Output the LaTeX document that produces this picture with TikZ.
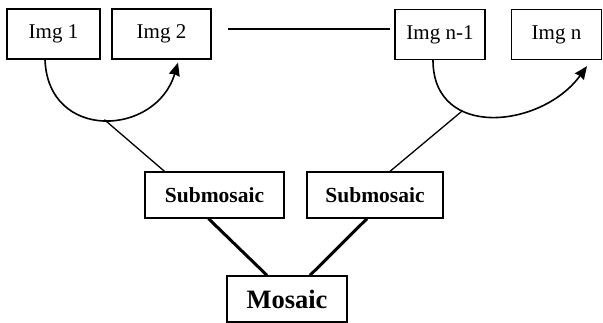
\documentclass[tikz,border=0pt]{standalone}
\usepackage{fontspec}
\setmainfont{Liberation Serif}
\usetikzlibrary{arrows.meta}

\begin{document}
\begin{tikzpicture}[x=1pt,y=-1pt,
	imgbox/.style={draw, line width=1.3pt, minimum height=50pt, inner sep=0pt,
		font=\fontsize{21}{24}\selectfont},
	subbox/.style={draw, line width=1.3pt, minimum height=46pt, inner sep=0pt,
		font=\bfseries\fontsize{21.5}{24}\selectfont},
	link/.style={line width=1.3pt},
	hop/.style={line width=1.6pt, -{Stealth[length=13pt,width=11pt,inset=1pt]}},
	merge/.style={line width=3pt}]
					
					\useasboundingbox (0,0) rectangle (603,323);
					
					% ---- top: image row ----
					\node[imgbox, minimum width=93pt] (img1) at (53.5,34) {Img 1};
					\node[imgbox, minimum width=99pt] (img2) at (161.5,34) {Img 2};
					\node[imgbox, minimum width=90pt] (imgm) at (440,34.5) {Img n-1};
					\node[imgbox, minimum width=90pt] (imgn) at (556.5,34.5) {Img n};
					
					% ---- middle: submosaics ----
					\node[subbox, minimum width=139pt] (sub1) at (214.5,195) {Submosaic};
					\node[subbox, minimum width=136pt] (sub2) at (375,195) {Submosaic};
					
					% ---- bottom: mosaic ----
					\node[subbox, minimum width=120pt, font=\bfseries\fontsize{26.5}{30}\selectfont]
					(mosaic) at (287,299) {Mosaic};
					
					% gap between the two pairs
					\coordinate (gapL) at (228,29);
					\coordinate (gapR) at (390,29);
					\draw[link] (gapL) -- (gapR);
					
					% pairwise registration
					\draw[hop] ([xshift=-8.5pt]img1.south) .. controls +(3,82) and +(-22,74) ..
					([xshift=16.5pt,yshift=-3pt]img2.south) coordinate[pos=0.5] (arcA);
					\draw[hop] ([xshift=-7pt]imgm.south) .. controls +(0,80) and +(-45,62) ..
					([xshift=30.5pt,yshift=-6pt]imgn.south) coordinate[pos=0.33] (arcB);
					
					\draw[link] (arcA) -- ([xshift=-50pt]sub1.north);
					\draw[link] (arcB) -- ([xshift=15pt]sub2.north);
					
					\draw[merge] ([xshift=-6pt]sub1.south) -- ([xshift=-20pt]mosaic.north);
					\draw[merge] ([xshift=-8pt]sub2.south) -- ([xshift=23pt]mosaic.north);
					
\end{tikzpicture}
\end{document}
